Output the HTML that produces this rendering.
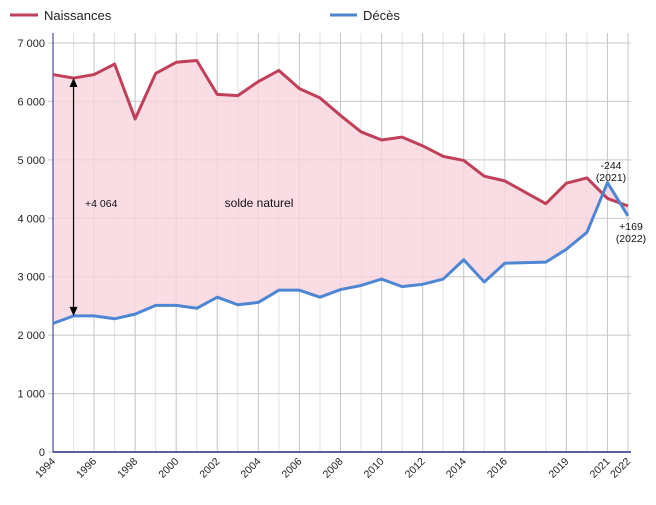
<!DOCTYPE html>
<html><head><meta charset="utf-8"><style>
body{margin:0;background:#fff;font-family:"Liberation Sans","DejaVu Sans",sans-serif}
svg{display:block}
</style></head><body>
<svg id="chart" width="656" height="505" xmlns="http://www.w3.org/2000/svg" font-family="Liberation Sans, DejaVu Sans, sans-serif">
<g id="legend">
 <g><line x1="10" y1="15" x2="38" y2="15" stroke="#c0405a" stroke-width="3"/><text x="44" y="20" font-size="13" fill="#222">Naissances</text></g>
 <g><line x1="330" y1="15" x2="357" y2="15" stroke="#4f86d3" stroke-width="3"/><text x="363" y="20" font-size="13" fill="#222">Décès</text></g>
</g>
<g id="grid"></g>
<g id="area"></g>
<g id="axes"></g>
<g id="series"></g>
<g id="annot"></g>
</svg>
<script>
const years=[1994,1995,1996,1997,1998,1999,2000,2001,2002,2003,2004,2005,2006,2007,2008,2009,2010,2011,2012,2013,2014,2015,2016,2018,2019,2020,2021,2022];
const naissances=[6460,6400,6460,6640,5700,6480,6670,6700,6120,6100,6340,6530,6220,6060,5760,5480,5340,5390,5240,5060,4990,4720,4640,4250,4600,4690,4340,4210];
const deces=[2200,2330,2330,2280,2360,2510,2510,2460,2650,2520,2560,2770,2770,2650,2780,2850,2960,2830,2870,2960,3290,2910,3230,3250,3470,3760,4610,4040];
const yTicks=[0,1000,2000,3000,4000,5000,6000,7000];
const yTickLabels=["0","1 000","2 000","3 000","4 000","5 000","6 000","7 000"];
const xTickYears=[1994,1996,1998,2000,2002,2004,2006,2008,2010,2012,2014,2016,2019,2021,2022];
const NS="http://www.w3.org/2000/svg";
const X0=53,X1=628,Y0=452,Y1=43;
const x=v=>X0+(v-1994)*(X1-X0)/28;
const y=v=>Y0-v*(Y0-Y1)/7000;
function mk(tag,attrs,parent){const e=document.createElementNS(NS,tag);for(const k in attrs)e.setAttribute(k,attrs[k]);parent.appendChild(e);return e;}
const grid=document.getElementById('grid');
years.forEach(yr=>{const l=mk('line',{x1:x(yr),x2:x(yr),y1:33,y2:Y0,stroke:'#e2e2e2','stroke-width':1},grid);

});
xTickYears.forEach(yr=>{const l=mk('line',{x1:x(yr),x2:x(yr),y1:33,y2:Y0,stroke:'#c8c8c8','stroke-width':1},grid);

});
yTicks.forEach((v,i)=>{const l=mk('line',{x1:48,x2:631,y1:y(v),y2:y(v),stroke:'#c8c8c8','stroke-width':1},grid);


const t=mk('text',{x:45,y:y(v)+4,'font-size':11,'text-anchor':'end',fill:'#222'},grid);t.textContent=yTickLabels[i];

});
// area
let pts=years.map((yr,i)=>x(yr)+','+y(naissances[i]));
for(let i=years.length-1;i>=0;i--)pts.push(x(years[i])+','+y(deces[i]));
const area=mk('polygon',{points:pts.join(' '),fill:'#f9d5dd',opacity:0.8},document.getElementById('area'));


// axes
const axes=document.getElementById('axes');
const ya=mk('line',{x1:X0,x2:X0,y1:33,y2:Y0,stroke:'#2a2a8a','stroke-width':1},axes);


const xa=mk('line',{x1:X0,x2:631,y1:Y0,y2:Y0,stroke:'#2a2a8a','stroke-width':1.5},axes);


xTickYears.forEach(yr=>{const t=mk('text',{x:x(yr)+3,y:Y0+10,'font-size':10.5,'text-anchor':'end',fill:'#222',transform:`rotate(-45 ${x(yr)+3} ${Y0+10})`},axes);t.textContent=yr;

});
// series
const ser=document.getElementById('series');
const pn=mk('polyline',{points:years.map((yr,i)=>x(yr)+','+y(naissances[i])).join(' '),fill:'none',stroke:'#c0405a','stroke-width':3,'stroke-linejoin':'round'},ser);


const pd=mk('polyline',{points:years.map((yr,i)=>x(yr)+','+y(deces[i])).join(' '),fill:'none',stroke:'#4f86d3','stroke-width':3,'stroke-linejoin':'round'},ser);


// annotations
const an=document.getElementById('annot');
const ax=x(1995),ay1=y(naissances[1]),ay2=y(deces[1]);
const al=mk('line',{x1:ax,x2:ax,y1:ay1+6,y2:ay2-6,stroke:'#000','stroke-width':1.2},an);


const h1=mk('polygon',{points:`${ax},${ay1} ${ax-4},${ay1+9} ${ax+4},${ay1+9}`,fill:'#000'},an);


const h2=mk('polygon',{points:`${ax},${ay2} ${ax-4},${ay2-9} ${ax+4},${ay2-9}`,fill:'#000'},an);


function txt(s,tx,ty,sz,anchor,name){const t=mk('text',{x:tx,y:ty,'font-size':sz,'text-anchor':anchor,fill:'#111'},an);t.textContent=s;

}
txt('+4 064',85,207,10.5,'start','difference-label');
txt('solde naturel',259,207,12,'middle','solde-naturel-label');
txt('-244',611,169,10.5,'middle','annotation-2021-value');
txt('(2021)',611,181,10.5,'middle','annotation-2021-year');
txt('+169',631,230,10.5,'middle','annotation-2022-value');
txt('(2022)',631,242,10.5,'middle','annotation-2022-year');
</script>
</body></html>
